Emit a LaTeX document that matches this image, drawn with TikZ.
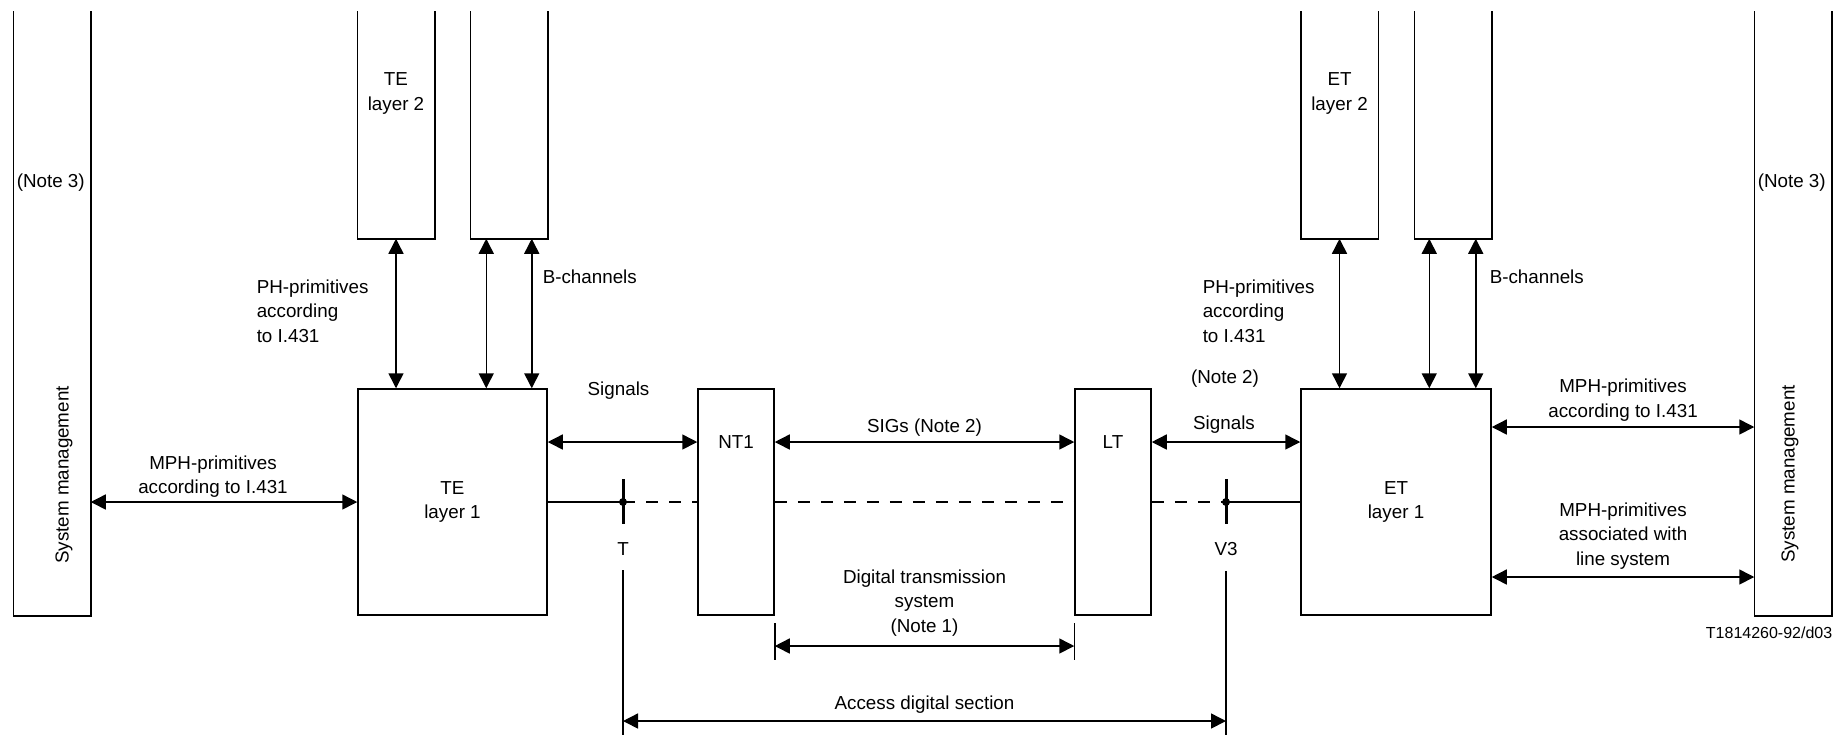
\documentclass[tikz,border=0pt]{standalone}
\usepackage{fontspec}
\setmainfont{Liberation Sans}
\usetikzlibrary
  {
    positioning,
    calc,
    arrows.meta,
  }
\tikzset
  {
    >={Triangle[length=7.5pt,width=7.5pt]},
    every node/.style=
      {
        inner sep=0pt,
        font=\fontsize{9.4}{12.25}\selectfont,
        align=center,
      },
    box/.style=
      {
        draw,
        rectangle,
        minimum width=38pt,
        minimum height=113pt,
      },
    column/.style=
      {
        rectangle,
        minimum width=38pt,
        minimum height=113pt,
      },
    sysbox/.style={column, minimum height=301.5pt},
    refline/.style={dash pattern=on 6pt off 5.5pt},
    refmark/.style={line width=1.5pt},
    figno/.style={font=\fontsize{8}{10}\selectfont},
  }

\begin{document}
\begin{tikzpicture}[x=.5pt, y=-.5pt, line width=.75pt]
  \useasboundingbox (0,0) rectangle (1834,735);

  % columns, open at the top
  \node[sysbox] (sm left) at (52,313.5) {};
  \node[sysbox] (sm right) at (1793,313.5) {};
  \node[column] (te l2) at (396,125) {};
  \node[column] (te b) at (509,125) {};
  \node[column] (et l2) at (1339.5,125) {};
  \node[column] (et b) at (1453,125) {};
  \foreach \col in {sm left, sm right, te l2, te b, et l2, et b}
    \draw (\col.north west) -- (\col.south west)
      -- (\col.south east) -- (\col.north east);

  \node[rotate=90] (sm left text) at (64,475) {System management};
  \node[rotate=90] (sm right text) at (1790,474) {System management};
  \node[anchor=west] (note left) at (16,183) {(Note 3)};
  \node[anchor=west] (note right) at (1757,183) {(Note 3)};
  \node[below=30.5pt of te l2.north] (te l2 text) {TE\\layer 2};
  \node[below=30.5pt of et l2.north] (et l2 text) {ET\\layer 2};

  % layer 1 blocks
  \node[box, minimum width=94.5pt] (te l1) at (452.5,502) {TE\\layer 1};
  \node[box] (nt1) at (736,502) {};
  \node[box] (lt) at (1113,502) {};
  \node[box, minimum width=95pt] (et l1) at (1396,502) {ET\\layer 1};

  % primitives and B-channels between layer 1 and layer 2
  \coordinate (te b1) at ($(te b.south west)+(16,0)$);
  \coordinate (te b2) at ($(te b.south east)+(-16,0)$);
  \coordinate (et b1) at ($(et b.south west)+(15,0)$);
  \coordinate (et b2) at ($(et b.south east)+(-16,0)$);
  \foreach \src/\dst in
    {te l2.south/te l1, te b1/te l1, te b2/te l1,
     et l2.south/et l1, et b1/et l1, et b2/et l1}
    \draw[<->] (\src) -- (\src |- \dst.north);

  \node[anchor=west, align=left] (ph left) at (256,311)
    {PH-primitives\\according\\to I.431};
  \node[anchor=west, align=left] (ph right) at (1202,311)
    {PH-primitives\\according\\to I.431};
  \node[anchor=west] (bch left) at (542,277) {B-channels};
  \node[anchor=west] (bch right) at (1489,277) {B-channels};

  % signals
  \coordinate (sig) at (0,442);
  \draw[<->] (te l1.east |- sig) -- (nt1.west |- sig);
  \draw[<->]
    (nt1.east |- sig) --
    node[above=2.5pt] (sigs text) {SIGs (Note 2)}
    (lt.west |- sig);
  \draw[<->] (lt.east |- sig) -- (et l1.west |- sig);
  \node (nt1 text) at (nt1 |- sig) {NT1};
  \node (lt text) at (lt |- sig) {LT};
  \node (sig left) at (618.5,391) {Signals};
  \node (sig right) at (1224,425) {Signals};
  \node (note two) at (1225,379) {(Note 2)};

  % reference points
  \coordinate (T) at (623,502);
  \coordinate (V3) at (1226,502);
  \draw (te l1.east) -- (T);
  \draw[refline] (T) -- (nt1.west);
  \draw[refline] (nt1.east) -- (lt.west);
  \draw[refline] (lt.east) -- (V3);
  \draw (V3) -- (et l1.west);
  \foreach \pt in {T, V3}
    {
      \draw[refmark] ($(\pt)+(0,-23)$) -- ($(\pt)+(0,22)$);
      \fill (\pt) circle[radius=2pt];
    }
  \node[below=20pt of T] (T text) {T};
  \node[below=20pt of V3] (V3 text) {V3};
  \coordinate (bottom) at (0,735);
  \draw ([yshift=-7pt]T text.south) -- (T |- bottom);
  \draw ([yshift=-7pt]V3 text.south) -- (V3 |- bottom);

  \coordinate (acc) at (0,721);
  \draw[<->]
    (T |- acc) --
    node[above=3.5pt] (acc text) {Access digital section}
    (V3 |- acc);

  % digital transmission system
  \coordinate (dts) at (0,646);
  \draw (nt1.east |- 0,623) -- (nt1.east |- 0,660);
  \draw (lt.west |- 0,623) -- (lt.west |- 0,660);
  \draw[<->]
    (nt1.east |- dts) --
    node[above=4.5pt] (dts text) {Digital transmission\\system\\(Note 1)}
    (lt.west |- dts);

  % system management
  \draw[<->] (sm left.east |- te l1) -- (te l1.west);
  \node (mph left) at (213,476.5) {MPH-primitives\\according to I.431};

  \coordinate (mph up) at (0,427);
  \coordinate (mph low) at (0,577);
  \draw[<->]
    (et l1.east |- mph up) --
    node[above=2.5pt] (mph up text) {MPH-primitives\\according to I.431}
    (sm right.west |- mph up);
  \draw[<->]
    (et l1.east |- mph low) --
    node[above=3.5pt] (mph low text)
      {MPH-primitives\\associated with\\line system}
    (sm right.west |- mph low);

  \node[figno, anchor=east] (fig no) at (1833,633) {T1814260-92/d03};
\end{tikzpicture}
\end{document}
